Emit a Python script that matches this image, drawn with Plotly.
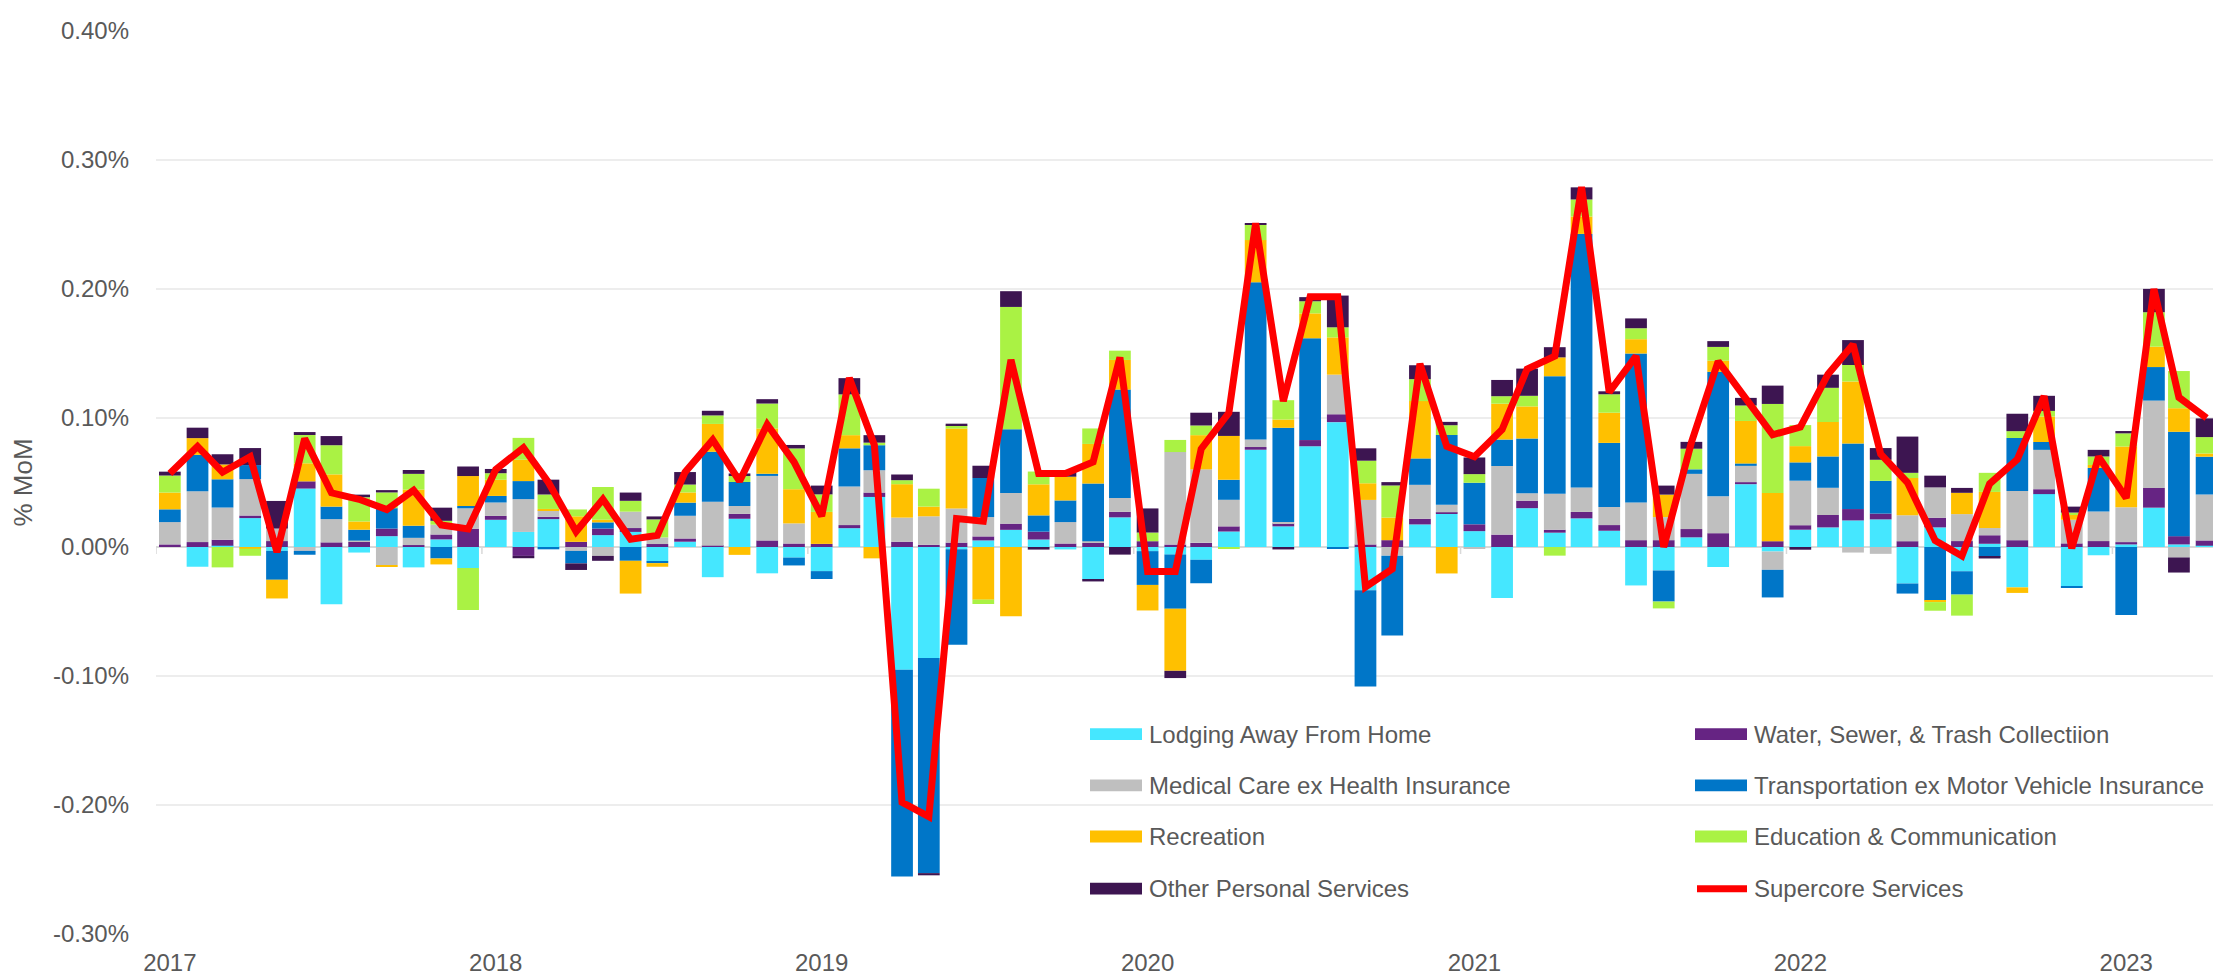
import pandas as pd
import plotly.graph_objects as go

# ---------------- data (percentage points, month-over-month contributions) ----------------
months = pd.date_range("2017-01-01", "2023-04-01", freq="MS")

lodging = [
    0.0, -0.0153, 0.001, 0.0224, -0.003, 0.0453, -0.0443, -0.0043, 0.0084, -0.0158, 0.0059, -0.0163,
    0.0211, 0.0117, 0.0216, 0.0, 0.0092, 0.0117, -0.0112, 0.0041, -0.0234, 0.0219, -0.0204, -0.0082,
    -0.0187, 0.0146, 0.0388, -0.0952, -0.0861, -0.0017, 0.0051, 0.0133, 0.0058, -0.0019, -0.0254, 0.023,
    -0.0032, -0.0059, -0.0099, 0.012, 0.0754, 0.016, 0.0781, 0.0968, -0.0336, 0.0, 0.0175, 0.0257,
    0.0123, -0.0395, 0.0301, 0.0111, 0.0222, 0.0126, -0.0298, -0.0182, 0.0075, -0.0155, 0.0487, -0.0035,
    0.0134, 0.0152, 0.0206, 0.0214, -0.0283, 0.0152, -0.0188, 0.0025, -0.0313, 0.041, -0.0305, -0.0064,
    0.002, 0.0305, 0.002, 0.001,
]
water = [
    0.002, 0.0038, 0.0046, 0.002, 0.0046, 0.0056, 0.0036, 0.004, 0.0059, 0.0015, 0.0038, 0.0142,
    0.003, -0.0069, 0.0018, 0.004, 0.0051, 0.003, 0.0023, 0.0025, 0.001, 0.0038, 0.0051, 0.0027,
    0.0024, 0.0024, 0.0034, 0.0041, 0.0017, 0.0034, 0.0031, 0.0048, 0.0061, 0.0027, 0.0032, 0.0043,
    0.0045, 0.0019, 0.0032, 0.004, 0.0021, 0.0024, 0.0048, 0.0061, 0.002, 0.0053, 0.0044, 0.0012,
    0.0053, 0.0096, 0.0058, 0.0023, 0.005, 0.0044, 0.0053, 0.0053, 0.0064, 0.0107, 0.0016, 0.0045,
    0.0035, 0.0096, 0.0088, 0.0045, 0.0045, 0.0075, 0.0046, 0.0066, 0.0053, 0.0038, 0.0028, 0.0046,
    0.0018, 0.0153, 0.0064, 0.0041,
]
medical = [
    0.0173, 0.0394, 0.025, 0.0282, 0.0097, -0.003, 0.018, 0.001, -0.014, 0.0056, 0.0076, 0.0158,
    0.0104, 0.0254, 0.0051, -0.003, -0.0069, 0.0127, 0.0051, 0.0176, 0.0341, 0.0061, 0.05, 0.0156,
    0.0, 0.0299, 0.0173, 0.0187, 0.0221, 0.0265, 0.015, 0.0238, 0.0, 0.0166, 0.0013, 0.0107,
    0.0, 0.0717, 0.057, 0.0206, 0.0059, 0.001, 0.0, 0.0307, 0.0345, -0.0067, 0.0263, 0.0058,
    -0.0015, 0.0532, 0.0058, 0.0278, 0.019, 0.014, 0.0292, 0.0179, 0.0428, 0.0286, 0.0126, -0.0142,
    0.0345, 0.0211, -0.0043, -0.0053, 0.0201, 0.0235, 0.0209, 0.0056, 0.0382, 0.0305, 0.0183, 0.0229,
    0.027, 0.0677, -0.0081, 0.0356,
]
transport = [
    0.0099, 0.0282, 0.0219, 0.0109, -0.0224, -0.003, 0.0097, 0.0084, 0.0158, 0.0094, -0.0089, 0.0018,
    0.0051, 0.014, -0.0018, -0.0097, 0.0048, -0.0107, -0.0013, 0.0102, 0.0387, 0.0186, 0.0017, -0.0061,
    -0.0061, 0.0296, 0.0194, -0.1602, -0.1667, -0.074, 0.0303, 0.0493, 0.0126, 0.0168, 0.0447, 0.084,
    -0.0262, -0.042, -0.0182, 0.0155, 0.1219, 0.073, 0.0789, -0.0013, -0.0746, -0.062, 0.0205, 0.0541,
    0.0322, 0.0205, 0.0424, 0.0912, 0.1965, 0.0497, 0.1155, -0.0241, 0.0035, 0.0965, 0.0019, -0.0214,
    0.0142, 0.0243, 0.0508, 0.0254, -0.0078, -0.0414, -0.0181, -0.0076, 0.041, 0.0061, -0.0013, 0.0338,
    -0.0527, 0.026, 0.0809, 0.0293,
]
recreation = [
    0.013, 0.013, 0.0115, -0.0013, -0.0145, 0.014, 0.025, 0.0064, -0.0013, 0.028, -0.0046, 0.0232,
    0.0125, 0.0165, 0.001, 0.0198, 0.002, -0.0254, -0.0028, 0.0079, 0.0216, -0.0061, 0.035, 0.0265,
    0.0248, 0.0102, -0.0088, 0.0259, 0.0075, 0.0619, -0.0408, -0.0537, 0.0241, 0.0184, 0.0307, 0.023,
    -0.0198, -0.0481, 0.0265, 0.034, 0.0326, 0.0064, 0.0193, 0.0289, 0.0129, 0.0175, 0.0444, -0.0205,
    0.0, 0.0278, 0.0249, 0.0146, 0.0135, 0.0234, 0.0111, 0.0174, 0.0, 0.0086, 0.0329, 0.0374,
    0.0126, 0.0267, 0.0481, 0.0, 0.0289, -0.0013, 0.0165, 0.028, -0.0043, 0.0198, 0.0043, 0.0023,
    0.0471, 0.0158, 0.0183, 0.0025,
]
education = [
    0.0132, 0.0, -0.0158, -0.0055, 0.0, 0.0219, 0.0226, 0.0188, 0.0122, 0.0122, 0.003, -0.0326,
    0.0051, 0.017, 0.0112, 0.0053, 0.0254, 0.0084, 0.014, 0.0061, 0.0066, 0.0046, 0.0194, 0.0316,
    0.0136, 0.0316, 0.002, 0.0031, 0.0139, 0.0024, -0.0034, 0.0949, 0.0099, 0.0, 0.012, 0.0072,
    0.0067, 0.0094, 0.0075, -0.0011, 0.012, 0.015, 0.0094, 0.0078, 0.0175, 0.0249, 0.017, 0.0076,
    0.0067, 0.0058, 0.0082, -0.0067, 0.0132, 0.0143, 0.0085, -0.0053, 0.016, 0.0107, 0.012, 0.069,
    0.0163, 0.0265, 0.0128, 0.0163, 0.004, -0.0067, -0.0163, 0.0148, 0.0053, 0.0043, 0.0013, 0.0066,
    0.0102, 0.0267, 0.0288, 0.0127,
]
other = [
    0.003, 0.0081, 0.0079, 0.0132, 0.0214, 0.0023, 0.0071, 0.002, 0.0018, 0.003, 0.0102, 0.0074,
    0.0033, -0.0018, 0.0115, -0.0051, -0.0038, 0.0064, 0.0023, 0.0097, 0.0036, 0.002, 0.0034, 0.0027,
    0.0068, 0.0126, 0.0058, 0.0044, -0.0017, 0.0014, 0.0095, 0.0122, -0.002, 0.0035, -0.0013, -0.0059,
    0.0187, -0.0056, 0.0099, 0.0187, 0.001, -0.0019, 0.0032, 0.0246, 0.0096, 0.0026, 0.0108, 0.0026,
    0.0129, 0.0126, 0.0211, 0.0079, 0.0094, 0.0023, 0.0076, 0.007, 0.0053, 0.0045, 0.0059, 0.0142,
    -0.0021, 0.0102, 0.0193, 0.0091, 0.0281, 0.0091, 0.0038, -0.0013, 0.0135, 0.0117, 0.0046, 0.0051,
    0.0018, 0.0181, -0.0117, 0.0145,
]
supercore = [
    0.057, 0.078, 0.058, 0.070, -0.004, 0.084, 0.042, 0.037, 0.029, 0.044, 0.017, 0.014,
    0.060, 0.077, 0.050, 0.012, 0.037, 0.006, 0.009, 0.058, 0.083, 0.051, 0.095, 0.066,
    0.024, 0.131, 0.079, -0.198, -0.209, 0.022, 0.020, 0.145, 0.057, 0.057, 0.066, 0.147,
    -0.019, -0.019, 0.076, 0.104, 0.251, 0.113, 0.194, 0.194, -0.031, -0.017, 0.142, 0.078,
    0.070, 0.091, 0.138, 0.148, 0.279, 0.120, 0.148, 0.000, 0.081, 0.144, 0.115, 0.087,
    0.093, 0.134, 0.157, 0.072, 0.050, 0.005, -0.007, 0.049, 0.068, 0.117, -0.001, 0.070,
    0.038, 0.200, 0.116, 0.100,
]

y_tick_vals = [-0.3, -0.2, -0.1, 0.0, 0.1, 0.2, 0.3, 0.4]
y_tick_text = ["-0.30%", "-0.20%", "-0.10%", "0.00%", "0.10%", "0.20%", "0.30%", "0.40%"]

bar_series = [
    ("Lodging Away From Home", lodging, "#45E7FF"),
    ("Water, Sewer, & Trash Collectiion", water, "#662483"),
    ("Medical Care ex Health Insurance", medical, "#BFBFBF"),
    ("Transportation ex Motor Vehicle Insurance", transport, "#0076C8"),
    ("Recreation", recreation, "#FFC000"),
    ("Education & Communication", education, "#AAF244"),
    ("Other Personal Services", other, "#3D1551"),
]
line_name, line_color = "Supercore Services", "#FF0000"

# ---------------- figure ----------------
FONT = "Liberation Sans, Arial, sans-serif"
TXT = "#595959"
W, H = 2221, 977
ML, MR, MT, MB = 148, 9, 19, 41

day_ms = 86400000
bar_w = 0.8 * 30.44 * day_ms

fig = go.Figure()
for name, vals, col in bar_series:
    fig.add_trace(go.Bar(
        x=months, y=vals, name=name, marker=dict(color=col, line=dict(width=0)),
        width=bar_w, showlegend=False,
    ))
fig.add_trace(go.Scatter(
    x=months, y=supercore, name=line_name, mode="lines",
    line=dict(color=line_color, width=7), showlegend=False,
))

x_start = months[0] - (months[1] - months[0]) / 2
x_end = months[-1] + pd.Timedelta(days=15)

# small year-boundary tick marks on the zero line
shapes = []
for i in range(len(months)):
    if months[i].month == 1:
        prev = months[i - 1] if i > 0 else months[i] - pd.DateOffset(months=1)
        bx = prev + (months[i] - prev) / 2
        shapes.append(dict(type="line", xref="x", yref="y", x0=bx, x1=bx,
                           ysizemode="pixel", yanchor=0, y0=0, y1=-7,
                           line=dict(color="#D9D9D9", width=1.5)))

# custom legend (two columns)
pw, ph = W - ML - MR, H - MT - MB
def px_x(p):
    return (p - ML) / pw
def px_y(p):
    return (H - MB - p) / ph

col_x = [1082, 1687]
row_y = [733, 785, 837, 890]
entries = [(n, c, "bar") for n, _, c in bar_series] + [(line_name, line_color, "line")]
annotations = []
for k, (name, col, kind) in enumerate(entries):
    cx = col_x[k % 2]
    ry = row_y[k // 2]
    if kind == "bar":
        shapes.append(dict(type="rect", xref="paper", yref="paper",
                           x0=px_x(cx), x1=px_x(cx + 52), y0=px_y(ry + 6), y1=px_y(ry - 6),
                           fillcolor=col, line=dict(width=0)))
    else:
        shapes.append(dict(type="line", xref="paper", yref="paper",
                           x0=px_x(cx + 2), x1=px_x(cx + 52), y0=px_y(ry), y1=px_y(ry),
                           line=dict(color=col, width=7)))
    annotations.append(dict(xref="paper", yref="paper", x=px_x(cx + 57), y=px_y(ry),
                            text=name, showarrow=False, xanchor="left", yanchor="middle",
                            font=dict(family=FONT, size=24, color=TXT)))

fig.update_layout(
    width=W, height=H,
    margin=dict(l=ML, r=MR, t=MT, b=MB),
    barmode="relative", bargap=0.2,
    plot_bgcolor="white", paper_bgcolor="white",
    font=dict(family=FONT, size=24, color=TXT),
    shapes=shapes, annotations=annotations,
    xaxis=dict(
        type="date", range=[x_start, x_end],
        tick0="2017-01-01", dtick="M12", tickformat="%Y",
        showgrid=False, zeroline=False, showline=False, ticks="",
        ticklabelstandoff=12,
        tickfont=dict(family=FONT, size=24, color=TXT),
    ),
    yaxis=dict(
        range=[-0.3, 0.4], tickmode="array", tickvals=y_tick_vals, ticktext=y_tick_text,
        showgrid=True, gridcolor="#EDEDED", gridwidth=1.5,
        zeroline=True, zerolinecolor="#D9D9D9", zerolinewidth=2,
        ticks="", ticklabelstandoff=26,
        tickfont=dict(family=FONT, size=24, color=TXT),
        title=dict(text="% MoM", standoff=16, font=dict(family=FONT, size=26, color=TXT)),
    ),
)

fig.write_html("out.html")
